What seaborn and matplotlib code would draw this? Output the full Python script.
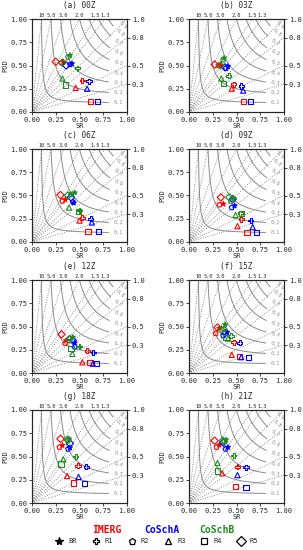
import numpy as np
import pandas as pd
import matplotlib
matplotlib.use("Agg")
import matplotlib.pyplot as plt
import seaborn as sns
from matplotlib.lines import Line2D

# ---------------- data ----------------
panel_titles = ["(a) 00Z", "(b) 03Z", "(c) 06Z", "(d) 09Z",
                "(e) 12Z", "(f) 15Z", "(g) 18Z", "(h) 21Z"]
groups = ["BR", "R1", "R2", "R3", "R4", "R5"]
products = ["IMERG", "CoSchA", "CoSchB"]

# rows: panels a..h ; columns: BR, R1, R2, R3, R4, R5
imerg_sr = [
    [0.33, 0.53, 0.31, 0.46, 0.62, 0.25],
    [0.33, 0.47, 0.31, 0.45, 0.57, 0.27],
    [0.35, 0.53, 0.32, 0.50, 0.59, 0.30],
    [0.36, 0.55, 0.32, 0.51, 0.61, 0.335],
    [0.36, 0.58, 0.35, 0.53, 0.61, 0.31],
    [0.32, 0.47, 0.28, 0.45, 0.535, 0.30],
    [0.32, 0.485, 0.29, 0.37, 0.44, 0.30],
    [0.32, 0.51, 0.29, 0.35, 0.49, 0.27],
]
imerg_pod = [
    [0.54, 0.34, 0.53, 0.26, 0.11, 0.54],
    [0.50, 0.30, 0.50, 0.25, 0.11, 0.51],
    [0.455, 0.26, 0.44, 0.23, 0.115, 0.505],
    [0.41, 0.245, 0.40, 0.17, 0.10, 0.48],
    [0.35, 0.24, 0.32, 0.115, 0.11, 0.415],
    [0.48, 0.33, 0.425, 0.195, 0.18, 0.49],
    [0.62, 0.40, 0.60, 0.29, 0.215, 0.69],
    [0.625, 0.39, 0.60, 0.32, 0.175, 0.67],
]
coscha_sr = [
    [0.42, 0.60, 0.40, 0.58, 0.69, 0.36],
    [0.41, 0.55, 0.39, 0.57, 0.65, 0.38],
    [0.44, 0.62, 0.43, 0.63, 0.70, 0.41],
    [0.48, 0.65, 0.45, 0.67, 0.71, 0.46],
    [0.45, 0.645, 0.45, 0.64, 0.68, 0.43],
    [0.40, 0.535, 0.36, 0.55, 0.63, 0.38],
    [0.40, 0.57, 0.38, 0.49, 0.55, 0.40],
    [0.41, 0.60, 0.385, 0.51, 0.60, 0.36],
]
coscha_pod = [
    [0.52, 0.33, 0.51, 0.25, 0.11, 0.50],
    [0.49, 0.28, 0.47, 0.23, 0.11, 0.48],
    [0.42, 0.25, 0.43, 0.21, 0.115, 0.48],
    [0.39, 0.23, 0.37, 0.16, 0.10, 0.46],
    [0.325, 0.22, 0.28, 0.10, 0.105, 0.35],
    [0.44, 0.325, 0.40, 0.17, 0.17, 0.43],
    [0.595, 0.39, 0.58, 0.28, 0.21, 0.64],
    [0.60, 0.385, 0.58, 0.30, 0.17, 0.65],
]
coschb_sr = [
    [0.40, 0.48, 0.38, 0.32, 0.35, 0.32],
    [0.37, 0.42, 0.36, 0.34, 0.36, 0.33],
    [0.45, 0.50, 0.41, 0.39, 0.49, 0.38],
    [0.47, 0.54, 0.44, 0.49, 0.55, 0.425],
    [0.43, 0.50, 0.40, 0.425, 0.41, 0.39],
    [0.38, 0.445, 0.37, 0.41, 0.39, 0.34],
    [0.39, 0.46, 0.38, 0.33, 0.305, 0.375],
    [0.39, 0.47, 0.37, 0.30, 0.30, 0.355],
]
coschb_pod = [
    [0.61, 0.47, 0.59, 0.36, 0.29, 0.53],
    [0.58, 0.39, 0.56, 0.36, 0.31, 0.50],
    [0.53, 0.34, 0.51, 0.37, 0.33, 0.50],
    [0.47, 0.31, 0.44, 0.29, 0.31, 0.48],
    [0.385, 0.285, 0.375, 0.205, 0.26, 0.36],
    [0.52, 0.40, 0.47, 0.37, 0.385, 0.465],
    [0.69, 0.50, 0.67, 0.47, 0.42, 0.68],
    [0.68, 0.51, 0.66, 0.43, 0.345, 0.67],
]

bias_top_vals = [10, 5.0, 3.0, 2.0, 1.5, 1.3]
bias_top_labels = ["10", "5.0", "3.0", "2.0", "1.5", "1.3"]
bias_right_vals = [1.0, 0.8, 0.5, 0.3]
bias_right_labels = ["1.0", "0.8", "0.5", "0.3"]
csi_levels = [0.1, 0.2, 0.3, 0.4, 0.5, 0.6, 0.7, 0.8, 0.9]

# ---------------- style ----------------
sns.set_style("ticks")
plt.rcParams["font.family"] = ["DejaVu Sans Mono", "DejaVu Sans"]

colors = {"IMERG": "#ff0000", "CoSchA": "#0000ff", "CoSchB": "#1e8c1e"}
markers = {"BR": "*", "R1": "P", "R2": "p", "R3": "^", "R4": "s", "R5": "D"}

sr_tab = {"IMERG": imerg_sr, "CoSchA": coscha_sr, "CoSchB": coschb_sr}
pod_tab = {"IMERG": imerg_pod, "CoSchA": coscha_pod, "CoSchB": coschb_pod}

W, H = 303, 550
fig = plt.figure(figsize=(W / 100, H / 100), dpi=100)

col_left = [32, 189]
row_top = [19, 149, 280, 410]
aw, ah = 95, 93

xg = np.linspace(0.005, 1.0, 300)
X, Y = np.meshgrid(xg, xg)
CSI = 1.0 / (1.0 / X + 1.0 / Y - 1.0)

for i, title in enumerate(panel_titles):
    r, c = divmod(i, 2)
    left = col_left[c] / W
    bottom = 1 - (row_top[r] + ah) / H
    ax = fig.add_axes([left, bottom, aw / W, ah / H])

    # CSI contours
    cs = ax.contour(X, Y, CSI, levels=csi_levels, colors="#8a8a8a",
                    linewidths=0.7, zorder=1)
    lab_pos = []
    for lv in csi_levels:
        xp = 0.91 if lv <= 0.7 else (0.93 if lv == 0.8 else 0.96)
        yp = 1.0 / (1.0 / lv - 1.0 / xp + 1.0)
        lab_pos.append((xp, yp))
    ax.clabel(cs, fmt="%.1f", fontsize=3.8, manual=lab_pos, inline=True,
              colors="#909090")

    # bias lines
    for b in bias_top_vals:
        ax.plot([0, 1 / b], [0, 1], ls=":", color="#808080", lw=0.65, zorder=1)
    for b in bias_right_vals:
        ax.plot([0, 1], [0, b], ls=":", color="#808080", lw=0.65, zorder=1)

    # points
    rows = []
    for p in products:
        for j, g in enumerate(groups):
            rows.append({"product": p, "group": g,
                         "SR": sr_tab[p][i][j], "POD": pod_tab[p][i][j]})
    df = pd.DataFrame(rows)
    sns.scatterplot(data=df, x="SR", y="POD", hue="product", style="group",
                    palette=colors, markers=markers, s=14, linewidth=0.8,
                    legend=False, ax=ax, zorder=5)
    coll = ax.collections[-1]
    fc = np.array(coll.get_facecolors())
    ec = fc.copy()
    hollow = (df["group"] != "BR").values
    fc[hollow] = [1, 1, 1, 0]
    coll.set_facecolors(fc)
    coll.set_edgecolors(ec)

    ax.set_xlim(0, 1)
    ax.set_ylim(0, 1)
    ticks = [0, 0.25, 0.5, 0.75, 1.0]
    ax.set_xticks(ticks)
    ax.set_yticks(ticks)
    ax.set_xticklabels(["0.00", "0.25", "0.50", "0.75", "1.00"])
    ax.set_yticklabels(["0.00", "0.25", "0.50", "0.75", "1.00"])
    ax.tick_params(labelsize=5, length=2, width=0.6, pad=1.5)
    ax.set_xlabel("SR", fontsize=5, labelpad=0)
    ax.set_ylabel("POD", fontsize=5, labelpad=1)
    for s in ax.spines.values():
        s.set_linewidth(0.7)

    axr = ax.twinx()
    axr.set_ylim(0, 1)
    axr.set_yticks(bias_right_vals)
    axr.set_yticklabels(bias_right_labels)
    axr.tick_params(labelsize=5, length=2, width=0.6, pad=1.5)
    axr.grid(False)

    axt = ax.twiny()
    axt.set_xlim(0, 1)
    axt.set_xticks([1 / b for b in bias_top_vals])
    axt.set_xticklabels(bias_top_labels)
    axt.tick_params(labelsize=3.8, length=0, pad=1)
    axt.grid(False)

    ax.text(0.5, 1.15, title, transform=ax.transAxes, ha="center",
            va="center", fontsize=5.5)

# legend
fig.text(107 / W, 1 - 530 / H, "IMERG", color="#ff0000", fontsize=7,
         fontweight="bold", ha="center", va="center")
fig.text(162 / W, 1 - 530 / H, "CoSchA", color="#0000ff", fontsize=7,
         fontweight="bold", ha="center", va="center")
fig.text(217 / W, 1 - 530 / H, "CoSchB", color="#1e8c1e", fontsize=7,
         fontweight="bold", ha="center", va="center")

handles = []
for g in groups:
    filled = g == "BR"
    handles.append(Line2D([], [], ls="none", marker=markers[g],
                          markersize=5 if g != "BR" else 6,
                          markerfacecolor="black" if filled else "none",
                          markeredgecolor="black", markeredgewidth=0.9))
fig.legend(handles, groups, loc="center", ncol=6,
           bbox_to_anchor=(157 / W, 1 - 541 / H), frameon=False,
           fontsize=5, handletextpad=0.8, columnspacing=2.2,
           handlelength=1.0)

fig.savefig("out.png", dpi=100)
